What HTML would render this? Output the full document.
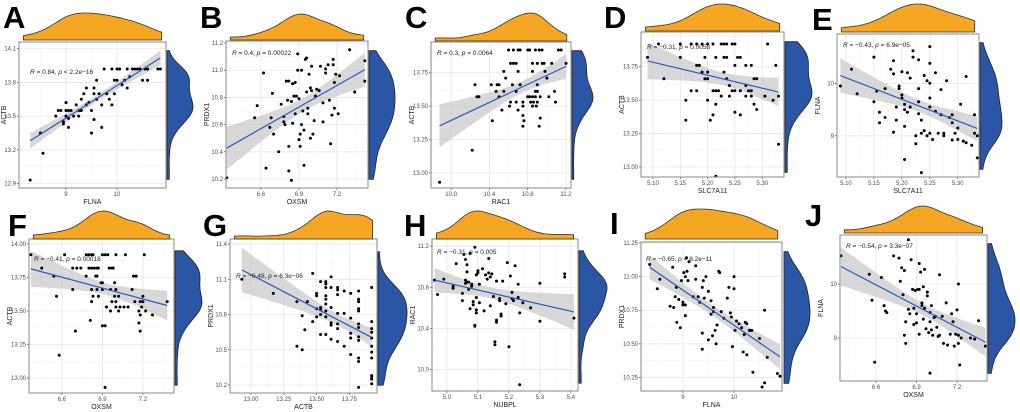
<!DOCTYPE html>
<html><head><meta charset="utf-8"><style>
html,body{margin:0;padding:0;background:#fff;}
svg{display:block;font-family:"Liberation Sans",Arial,sans-serif;}
</style></head><body>
<svg id="fig" width="1020" height="412" viewBox="0 0 1020 412" xmlns="http://www.w3.org/2000/svg"></svg>
<script>
// ---- Data arrays (per panel) ----
const A_x=[8.3,8.5,8.55,8.8,8.85,8.9,8.95,8.95,9.0,9.0,9.0,9.0,9.05,9.05,9.05,9.1,9.15,9.2,9.25,9.25,9.3,9.3,9.35,9.4,9.4,9.45,9.5,9.5,9.55,9.55,9.55,9.6,9.6,9.65,9.7,9.7,9.75,9.8,9.85,9.9,9.95,9.95,10.0,10.05,10.1,10.15,10.2,10.2,10.25,10.3,10.35,10.4,10.45,10.5,10.55,10.6,10.6,10.8,10.85,9.9,10.0];
const A_y=[12.93,13.35,13.17,13.5,13.55,13.55,13.45,13.43,13.5,13.55,13.62,13.62,13.55,13.48,13.4,13.55,13.5,13.6,13.55,13.5,13.55,13.65,13.7,13.75,13.6,13.62,13.35,13.55,13.47,13.7,13.75,13.65,13.82,13.7,13.4,13.6,13.92,13.7,13.65,13.6,13.7,13.82,13.82,13.92,13.78,13.82,13.75,13.92,13.85,13.92,13.92,13.92,13.92,13.82,13.92,13.82,13.92,13.92,13.92,13.92,13.92];
const B_x=[6.33,6.55,6.57,6.62,6.64,6.67,6.68,6.69,6.7,6.74,6.76,6.78,6.78,6.79,6.8,6.81,6.82,6.82,6.82,6.84,6.84,6.85,6.85,6.86,6.87,6.87,6.88,6.89,6.9,6.9,6.91,6.91,6.92,6.92,6.93,6.94,6.94,6.95,6.96,6.96,6.97,6.97,6.98,6.99,6.99,7.0,7.0,7.01,7.02,7.03,7.04,7.06,7.07,7.09,7.09,7.11,7.11,7.13,7.14,7.15,7.16,7.17,7.17,7.18,7.18,7.19,7.21,7.22,7.3,7.34,7.42,7.42,6.89];
const B_y=[10.21,10.65,10.74,10.98,10.28,10.58,10.65,10.83,10.53,10.4,10.75,10.66,10.62,10.6,10.92,10.78,10.92,10.44,10.26,10.77,10.19,10.61,10.9,10.81,10.91,10.68,10.81,11.0,10.49,10.79,10.53,10.44,10.6,11.0,10.7,10.3,10.56,11.08,10.84,11.09,10.72,10.68,10.97,10.87,10.5,10.85,11.03,10.53,10.63,10.81,10.86,10.85,11.03,10.62,10.76,11.01,10.98,11.04,10.78,10.46,10.67,11.04,11.08,10.91,10.72,10.97,10.68,10.96,11.15,10.84,10.92,11.07,11.12];
const C_x=[10.6,10.65,10.7,10.72,10.8,10.82,10.88,10.92,10.95,11.12,11.15,10.62,10.65,10.68,10.85,10.9,10.95,10.97,11.05,11.2,10.55,10.7,10.85,10.98,10.57,11.0,10.25,10.42,10.48,10.5,10.64,10.72,10.9,10.47,10.55,10.68,10.88,10.9,11.08,10.27,10.29,10.5,10.8,10.82,10.85,10.88,10.93,11.02,10.62,10.68,10.75,10.83,10.86,10.9,11.09,10.61,10.75,10.85,10.89,10.53,10.7,10.75,10.93,10.43,10.76,10.75,10.92,10.22,9.88];
const C_y=[13.92,13.92,13.92,13.92,13.92,13.92,13.92,13.92,13.92,13.92,13.92,13.82,13.82,13.82,13.82,13.82,13.82,13.82,13.82,13.82,13.76,13.76,13.76,13.76,13.71,13.71,13.66,13.66,13.66,13.66,13.66,13.66,13.66,13.61,13.61,13.61,13.61,13.61,13.61,13.57,13.57,13.57,13.57,13.57,13.57,13.57,13.57,13.57,13.53,13.53,13.53,13.53,13.53,13.53,13.53,13.5,13.5,13.5,13.5,13.47,13.47,13.43,13.41,13.39,13.39,13.35,13.35,13.17,12.93];
const D_x=[5.11,5.15,5.17,5.18,5.19,5.2,5.21,5.225,5.23,5.235,5.245,5.25,5.31,5.09,5.15,5.195,5.215,5.23,5.235,5.255,5.26,5.18,5.185,5.25,5.27,5.28,5.325,5.19,5.2,5.23,5.12,5.195,5.2,5.235,5.285,5.29,5.24,5.27,5.17,5.18,5.21,5.215,5.22,5.245,5.25,5.26,5.275,5.28,5.225,5.24,5.27,5.28,5.305,5.33,5.16,5.2,5.32,5.215,5.285,5.29,5.25,5.21,5.26,5.16,5.205,5.33,5.215];
const D_y=[13.92,13.92,13.92,13.92,13.92,13.92,13.92,13.92,13.92,13.92,13.92,13.92,13.92,13.82,13.82,13.82,13.82,13.82,13.82,13.82,13.82,13.76,13.76,13.76,13.76,13.76,13.76,13.71,13.71,13.71,13.66,13.66,13.66,13.66,13.66,13.66,13.61,13.61,13.57,13.57,13.57,13.57,13.57,13.57,13.57,13.57,13.57,13.57,13.53,13.53,13.53,13.53,13.53,13.53,13.5,13.5,13.5,13.47,13.47,13.43,13.41,13.39,13.39,13.35,13.35,13.17,12.93];
const E_x=[5.09,5.11,5.12,5.15,5.15,5.155,5.16,5.16,5.17,5.17,5.18,5.185,5.185,5.185,5.19,5.19,5.195,5.195,5.2,5.2,5.2,5.205,5.205,5.205,5.205,5.21,5.21,5.215,5.215,5.22,5.22,5.225,5.225,5.23,5.23,5.23,5.23,5.235,5.235,5.235,5.24,5.24,5.245,5.245,5.25,5.25,5.25,5.25,5.25,5.25,5.255,5.26,5.26,5.265,5.27,5.27,5.275,5.275,5.28,5.285,5.29,5.29,5.29,5.295,5.3,5.3,5.305,5.31,5.315,5.315,5.325,5.33,5.33,5.335,5.335];
const E_y=[9.95,10.27,9.8,10.5,9.65,9.85,9.45,9.25,9.9,9.35,10.27,10.43,10.18,9.07,9.55,9.3,9.95,9.9,10.22,9.78,9.72,9.6,9.5,9.18,8.55,10.2,9.45,10.1,9.55,10.62,10.5,9.0,8.85,10.45,9.9,9.65,9.42,9.05,9.3,8.3,10.15,9.1,10.05,9.0,10.7,10.38,10.0,9.72,9.55,9.05,8.93,10.2,9.47,9.05,9.88,9.4,9.0,9.05,10.05,9.35,9.4,8.92,9.25,9.05,9.15,8.93,9.6,8.9,8.87,10.13,8.82,9.4,9.05,9.0,8.58];
const F_x=[6.37,6.62,6.78,6.8,6.82,6.83,6.9,6.92,6.94,7.0,7.07,7.21,6.45,6.68,6.71,6.74,6.8,6.82,6.84,6.86,6.87,6.95,6.97,6.98,6.54,6.78,6.85,6.86,7.13,7.15,6.89,6.9,6.99,6.68,6.82,6.86,6.9,6.96,7.0,7.12,6.56,6.83,6.87,6.99,7.02,7.2,6.82,6.97,7.0,7.14,7.18,7.2,7.38,6.93,7.0,7.03,7.06,7.09,7.19,6.96,7.02,7.17,7.22,7.18,7.27,6.81,7.17,6.9,6.92,6.7,7.18,6.58,6.92];
const F_y=[13.92,13.92,13.92,13.92,13.92,13.92,13.92,13.92,13.92,13.92,13.92,13.92,13.82,13.82,13.82,13.82,13.82,13.82,13.82,13.82,13.82,13.82,13.82,13.82,13.76,13.76,13.76,13.76,13.76,13.76,13.71,13.71,13.71,13.66,13.66,13.66,13.66,13.66,13.66,13.66,13.61,13.61,13.61,13.61,13.61,13.61,13.57,13.57,13.57,13.57,13.57,13.57,13.57,13.53,13.53,13.53,13.53,13.53,13.53,13.5,13.5,13.5,13.5,13.47,13.47,13.43,13.41,13.39,13.39,13.35,13.35,13.17,12.93];
const G_x=[13.92,13.92,13.92,13.92,13.92,13.92,13.92,13.92,13.92,13.92,13.92,13.92,13.82,13.82,13.82,13.82,13.82,13.82,13.82,13.82,13.82,13.82,13.82,13.82,13.76,13.76,13.76,13.76,13.76,13.71,13.71,13.71,13.66,13.66,13.66,13.66,13.66,13.66,13.66,13.61,13.61,13.61,13.61,13.61,13.61,13.57,13.57,13.57,13.57,13.57,13.57,13.57,13.57,13.57,13.53,13.53,13.53,13.53,13.53,13.5,13.5,13.5,13.5,13.47,13.47,13.43,13.41,13.39,13.39,13.35,13.35,13.17,12.93];
const G_y=[10.21,10.25,10.27,10.28,10.43,10.48,10.53,10.6,10.65,10.68,10.74,11.03,10.18,10.4,10.43,10.58,10.61,10.69,10.72,10.83,10.85,10.91,10.93,11.0,10.46,10.6,10.64,10.77,10.98,10.53,10.81,11.0,10.57,10.68,10.72,10.81,10.97,11.01,11.03,10.59,10.71,10.73,10.86,11.03,11.12,10.63,10.78,10.83,10.89,10.93,10.96,11.03,11.06,11.08,10.63,10.8,10.84,10.86,11.08,10.78,10.85,10.96,10.98,10.74,11.15,10.91,10.67,10.5,10.79,10.53,10.91,10.98,11.1];
const H_x=[4.96,4.97,4.99,5.02,5.02,5.03,5.05,5.05,5.055,5.06,5.06,5.06,5.065,5.065,5.07,5.07,5.075,5.075,5.08,5.08,5.085,5.085,5.09,5.09,5.095,5.095,5.095,5.095,5.1,5.1,5.105,5.105,5.115,5.12,5.125,5.13,5.135,5.135,5.14,5.14,5.145,5.15,5.155,5.155,5.16,5.16,5.16,5.17,5.17,5.175,5.175,5.18,5.19,5.195,5.2,5.205,5.21,5.21,5.215,5.22,5.23,5.23,5.235,5.235,5.245,5.27,5.3,5.3,5.38,5.38,5.41,5.09,5.065];
const H_y=[10.87,10.73,10.88,10.79,10.81,11.03,10.74,10.67,11.12,11.07,10.87,10.84,11.02,10.95,10.85,10.78,11.13,10.59,10.81,10.83,10.63,10.66,10.43,10.42,10.55,10.58,10.7,10.92,10.96,10.94,10.65,10.83,10.98,10.57,10.92,10.88,11.08,10.94,10.9,10.62,10.93,10.71,10.24,10.27,10.86,10.48,10.46,10.69,10.67,10.52,10.54,10.86,10.64,11.04,10.22,10.91,10.69,10.75,10.67,11.01,10.83,10.7,9.85,10.55,10.65,10.6,10.84,10.47,10.9,10.93,10.5,11.19,10.85];
const I_x=[8.35,8.5,8.55,8.75,8.8,8.82,8.85,8.87,8.88,8.92,8.95,8.97,9.0,9.0,9.02,9.05,9.05,9.05,9.07,9.08,9.1,9.12,9.2,9.25,9.25,9.3,9.33,9.38,9.38,9.38,9.4,9.42,9.45,9.5,9.5,9.55,9.55,9.58,9.6,9.6,9.63,9.65,9.67,9.7,9.72,9.75,9.8,9.87,9.9,9.93,9.95,9.97,10.0,10.0,10.02,10.05,10.1,10.15,10.18,10.2,10.22,10.25,10.3,10.35,10.37,10.5,10.55,10.6,10.6,10.65,10.85,10.9,10.25,10.32];
const I_y=[11.09,10.91,10.98,10.78,11.07,10.77,10.85,10.92,10.66,10.83,10.62,10.97,10.81,10.79,11.03,10.79,10.71,11.0,11.14,11.04,10.97,11.11,10.85,10.98,11.08,10.85,10.81,10.92,10.58,10.46,10.97,10.84,11.0,10.89,10.53,10.72,10.82,10.56,10.74,10.77,10.6,10.5,10.64,11.04,11.03,10.74,10.69,10.84,10.92,10.73,10.7,10.48,11.0,10.91,10.6,10.67,10.65,10.62,10.44,10.57,10.66,10.42,10.6,10.6,10.29,10.54,10.18,10.75,10.21,10.4,10.28,10.26,10.65,10.6];
const J_x=[6.34,6.55,6.57,6.59,6.64,6.66,6.67,6.68,6.73,6.77,6.78,6.79,6.8,6.81,6.81,6.82,6.82,6.84,6.84,6.85,6.86,6.87,6.88,6.88,6.89,6.9,6.9,6.91,6.92,6.92,6.92,6.93,6.94,6.94,6.95,6.95,6.96,6.96,6.97,6.98,6.98,6.99,7.0,7.0,7.0,7.01,7.01,7.02,7.03,7.04,7.05,7.06,7.07,7.07,7.09,7.1,7.12,7.13,7.15,7.16,7.17,7.18,7.19,7.2,7.21,7.21,7.21,7.22,7.23,7.3,7.33,7.36,7.41];
const J_y=[10.52,10.18,9.7,8.55,10.12,9.6,9.5,9.47,10.52,10.48,10.05,10.3,9.8,10.25,9.05,8.9,9.3,10.82,9.53,9.45,10.45,9.9,9.55,9.25,9.88,9.28,9.45,9.9,10.38,9.9,9.07,10.22,9.6,9.65,9.95,9.35,10.27,9.55,9.17,9.78,9.85,9.1,8.35,9.47,9.3,9.15,9.6,9.05,9.38,9.4,9.2,9.03,10.17,9.05,9.4,8.9,9.65,8.87,9.07,9.45,9.3,8.85,9.07,9.52,10.0,9.05,8.9,8.5,9.0,9.0,8.98,9.32,8.85];

const A_xticks=[9,10], A_yticks=[12.9,13.2,13.5,13.8,14.1];
const B_xticks=[6.6,6.9,7.2], B_yticks=[10.2,10.4,10.6,10.8,11.0,11.2];
const C_xticks=[10.0,10.4,10.8,11.2], C_yticks=[13.0,13.25,13.5,13.75];
const D_xticks=[5.10,5.15,5.20,5.25,5.30], D_yticks=[13.0,13.25,13.5,13.75];
const E_xticks=[5.10,5.15,5.20,5.25,5.30], E_yticks=[9,10];
const F_xticks=[6.6,6.9,7.2], F_yticks=[13.0,13.25,13.5,13.75,14.0];
const G_xticks=[13.0,13.25,13.5,13.75], G_yticks=[10.2,10.5,10.8,11.1,11.4];
const H_xticks=[5.0,5.1,5.2,5.3,5.4], H_yticks=[10.0,10.4,10.8,11.2];
const I_xticks=[9,10], I_yticks=[10.25,10.5,10.75,11.0,11.25];
const J_xticks=[6.6,6.9,7.2], J_yticks=[9,10];

const statLabels=["R = 0.84, p < 2.2e−16","R = 0.4, p = 0.00022","R = 0.3, p = 0.0064","R = −0.31, p = 0.0058","R = −0.43, p = 6.9e−05","R = −0.41, p = 0.00018","R = −0.48, p = 6.3e−06","R = −0.31, p = 0.005","R = −0.65, p = 8.2e−11","R = −0.54, p = 3.3e−07"];

const f0=v=>String(v), f1=v=>v.toFixed(1), f2=v=>v.toFixed(2);
// ---- layout (not data) ----
const panels=[
 {id:'A',xs:A_x,ys:A_y,xt:A_xticks,yt:A_yticks,xl:'FLNA',yl:'ACTB',box:[19,42,166,188],xd:[8.08,10.96],yd:[12.86,14.16],top:[13,40],right:[167,193,48,182],lab:[3,28],ann:[30,74],fy:f1,fx:f0},
 {id:'B',xs:B_x,ys:B_y,xt:B_xticks,yt:B_yticks,xl:'OXSM',yl:'PRDX1',box:[226,41,368,188],xd:[6.324,7.445],yd:[10.134,11.215],top:[14,40],right:[369,395,48,182],lab:[200,28],ann:[232,55],fy:f1,fx:f1},
 {id:'C',xs:C_x,ys:C_y,xt:C_xticks,yt:C_yticks,xl:'RAC1',yl:'ACTB',box:[431,42,571,188],xd:[9.79,11.252],yd:[12.887,13.98],top:[13,41],right:[572,593,48,182],lab:[405,28],ann:[437,55],fy:f2,fx:f1},
 {id:'D',xs:D_x,ys:D_y,xt:D_xticks,yt:D_yticks,xl:'SLC7A11',yl:'ACTB',box:[641,32,784,177],xd:[5.078,5.340],yd:[12.925,14.01],top:[4,31],right:[785,812,39,175],lab:[604,28],ann:[647,49],fy:f2,fx:f2},
 {id:'E',xs:E_x,ys:E_y,xt:E_xticks,yt:E_yticks,xl:'SLC7A11',yl:'FLNA',box:[837,34,979,177],xd:[5.084,5.338],yd:[8.216,10.94],top:[4,32],right:[980,1002,40,172],lab:[812,30],ann:[843,47],fy:f0,fx:f2},
 {id:'F',xs:F_x,ys:F_y,xt:F_xticks,yt:F_yticks,xl:'OXSM',yl:'ACTB',box:[29,239,174,393],xd:[6.356,7.43],yd:[12.888,14.037],top:[211,239],right:[175,202,248,388],lab:[8,236],ann:[34,261],fy:f2,fx:f1},
 {id:'G',xs:G_x,ys:G_y,xt:G_xticks,yt:G_yticks,xl:'ACTB',yl:'PRDX1',box:[230,239,377,393],xd:[12.84,13.96],yd:[10.132,11.443],top:[211,239],right:[378,407,249,388],lab:[203,236],ann:[236,278],fy:f1,fx:f2},
 {id:'H',xs:H_x,ys:H_y,xt:H_xticks,yt:H_yticks,xl:'NUBPL',yl:'RAC1',box:[432,239,578,391],xd:[4.952,5.423],yd:[9.79,11.27],top:[211,239],right:[579,607,248,386],lab:[404,236],ann:[437,254],fy:f1,fx:f1},
 {id:'I',xs:I_x,ys:I_y,xt:I_xticks,yt:I_yticks,xl:'FLNA',yl:'PRDX1',box:[641,242,782,391],xd:[8.18,10.94],yd:[10.15,11.257],top:[209,239],right:[784,810,249,386],lab:[610,234],ann:[646,261],fy:f2,fx:f0},
 {id:'J',xs:J_x,ys:J_y,xt:J_xticks,yt:J_yticks,xl:'OXSM',yl:'FLNA',box:[840,235,987,381],xd:[6.333,7.422],yd:[8.204,10.907],top:[206,233],right:[988,1015,241,376],lab:[805,226],ann:[846,248],fy:f0,fx:f1}
];

const NS='http://www.w3.org/2000/svg';
const svg=document.getElementById('fig');
function mk(tag,attrs,parent){const e=document.createElementNS(NS,tag);for(const k in attrs)e.setAttribute(k,attrs[k]);(parent||svg).appendChild(e);return e;}

function kde(vals,lo,hi,n){
 const m=vals.reduce((a,b)=>a+b,0)/vals.length;
 const sd=Math.sqrt(vals.reduce((a,b)=>a+(b-m)*(b-m),0)/(vals.length-1));
 const bw=1.06*sd*Math.pow(vals.length,-0.2);
 const out=[];for(let i=0;i<=n;i++){const t=lo+(hi-lo)*i/n;let s=0;for(const v of vals){const z=(t-v)/bw;s+=Math.exp(-0.5*z*z);}out.push([t,s]);}
 const mx=Math.max(...out.map(o=>o[1]));return out.map(o=>[o[0],o[1]/mx]);
}

panels.forEach((p,pi)=>{
 const g=mk('g',{});
 
 
 const [x0,y0,x1,y1]=p.box;
 const sx=v=>x0+(v-p.xd[0])/(p.xd[1]-p.xd[0])*(x1-x0);
 const sy=v=>y1-(v-p.yd[0])/(p.yd[1]-p.yd[0])*(y1-y0);
 const L=mk('text',{x:p.lab[0],y:p.lab[1],'font-size':31,'font-weight':'bold',fill:'#000'},g);L.textContent=p.id;
 
 
 const bg=mk('rect',{x:x0,y:y0,width:x1-x0,height:y1-y0,fill:'#fff'},g);
 
 
 const minor=(arr)=>{const r=[];for(let i=0;i<arr.length-1;i++)r.push((arr[i]+arr[i+1])/2);if(arr.length>1){const d=arr[1]-arr[0];r.push(arr[0]-d/2);r.push(arr[arr.length-1]+d/2);}return r;};
 minor(p.xt).forEach(v=>{const X=sx(v);if(X>x0&&X<x1)mk('line',{x1:X,x2:X,y1:y0,y2:y1,stroke:'#f3f3f3','stroke-width':0.5},g);});
 minor(p.yt).forEach(v=>{const Y=sy(v);if(Y>y0&&Y<y1)mk('line',{x1:x0,x2:x1,y1:Y,y2:Y,stroke:'#f3f3f3','stroke-width':0.5},g);});
 p.xt.forEach(v=>{const X=sx(v);mk('line',{x1:X,x2:X,y1:y0,y2:y1,stroke:'#e6e6e6','stroke-width':0.8},g);
  mk('line',{x1:X,x2:X,y1:y1,y2:y1+2,stroke:'#333','stroke-width':0.6},g);
  const t=mk('text',{x:X,y:y1+8,'font-size':6,fill:'#4d4d4d','text-anchor':'middle'},g);t.textContent=p.fx(v);
  
  });
 p.yt.forEach(v=>{const Y=sy(v);mk('line',{x1:x0,x2:x1,y1:Y,y2:Y,stroke:'#e6e6e6','stroke-width':0.8},g);
  mk('line',{x1:x0-2,x2:x0,y1:Y,y2:Y,stroke:'#333','stroke-width':0.6},g);
  const t=mk('text',{x:x0-3,y:Y+2,'font-size':6,fill:'#4d4d4d','text-anchor':'end'},g);t.textContent=p.fy(v);
  
  });
 const n=p.xs.length;const mx=p.xs.reduce((a,b)=>a+b,0)/n,my=p.ys.reduce((a,b)=>a+b,0)/n;
 let sxx=0,sxy=0;for(let i=0;i<n;i++){sxx+=(p.xs[i]-mx)**2;sxy+=(p.xs[i]-mx)*(p.ys[i]-my);}
 const b=sxy/sxx,a=my-b*mx;let sse=0;for(let i=0;i<n;i++)sse+=(p.ys[i]-a-b*p.xs[i])**2;
 const se=Math.sqrt(sse/(n-2));
 const xmin=Math.min(...p.xs),xmax=Math.max(...p.xs);
 const up=[],dn=[];for(let k=0;k<=40;k++){const xv=xmin+(xmax-xmin)*k/40;const yv=a+b*xv;const h=1.99*se*Math.sqrt(1/n+(xv-mx)**2/sxx);up.push(sx(xv).toFixed(1)+','+sy(yv+h).toFixed(1));dn.unshift(sx(xv).toFixed(1)+','+sy(yv-h).toFixed(1));}
 const rib=mk('polygon',{points:up.concat(dn).join(' '),fill:'#c8c8c8','fill-opacity':0.7},g);
 
 
 p.xs.forEach((xv,i)=>{const c=mk('circle',{cx:sx(xv).toFixed(1),cy:sy(p.ys[i]).toFixed(1),r:1.5,fill:'#000'},g);
  
  });
 const ln=mk('line',{x1:sx(xmin),y1:sy(a+b*xmin),x2:sx(xmax),y2:sy(a+b*xmax),stroke:'#2a5bbf','stroke-width':1.2},g);
 
 
 mk('rect',{x:x0,y:y0,width:x1-x0,height:y1-y0,fill:'none',stroke:'#8a8a8a','stroke-width':1},g);
 const parts=statLabels[pi].split(', ');
 const an=mk('text',{x:p.ann[0],y:p.ann[1],'font-size':6.5,fill:'#222'},g);
 
 
 const t1=mk('tspan',{'font-style':'italic'},an);t1.textContent='R';
 const t2=mk('tspan',{},an);t2.textContent=parts[0].slice(1)+', ';
 const t3=mk('tspan',{'font-style':'italic'},an);t3.textContent='p';
 const t4=mk('tspan',{},an);t4.textContent=parts[1].slice(1);
 const xt=mk('text',{x:(x0+x1)/2,y:y1+16,'font-size':7,fill:'#222','text-anchor':'middle'},g);xt.textContent=p.xl;
 
 
 const yy=(y0+y1)/2, yxp=Math.max(x0-17,6);
 const yt=mk('text',{x:yxp,y:yy,'font-size':7,fill:'#222','text-anchor':'middle',transform:`rotate(-90 ${yxp} ${yy})`},g);yt.textContent=p.yl;
 
 
 const dx=kde(p.xs,p.xd[0]+(p.xd[1]-p.xd[0])*0.03,p.xd[1]-(p.xd[1]-p.xd[0])*0.03,60);
 const [tt,tb]=p.top;
 let d='M'+sx(dx[0][0]).toFixed(1)+','+tb;dx.forEach(o=>{d+=' L'+sx(o[0]).toFixed(1)+','+(tb-(tb-tt)*(0.08+0.92*o[1])).toFixed(1);});
 d+=' L'+sx(dx[dx.length-1][0]).toFixed(1)+','+tb+' Z';
 const td=mk('path',{d:d,fill:'#f5a623',stroke:'#333','stroke-width':0.8},g);
 
 
 const [rl,rr,rt,rb]=p.right;
 const syr=v=>rb-(v-p.yd[0])/(p.yd[1]-p.yd[0])*(rb-rt);
 const dy=kde(p.ys,p.yd[0]+(p.yd[1]-p.yd[0])*0.02,p.yd[1]-(p.yd[1]-p.yd[0])*0.02,60);
 let d2='M'+rl+','+syr(dy[0][0]).toFixed(1);dy.forEach(o=>{d2+=' L'+(rl+(rr-rl)*(0.05+0.95*o[1])).toFixed(1)+','+syr(o[0]).toFixed(1);});
 d2+=' L'+rl+','+syr(dy[dy.length-1][0]).toFixed(1)+' Z';
 const rd=mk('path',{d:d2,fill:'#2b56a5',stroke:'#222','stroke-width':0.8},g);
 
 
});
</script>
</body></html>
